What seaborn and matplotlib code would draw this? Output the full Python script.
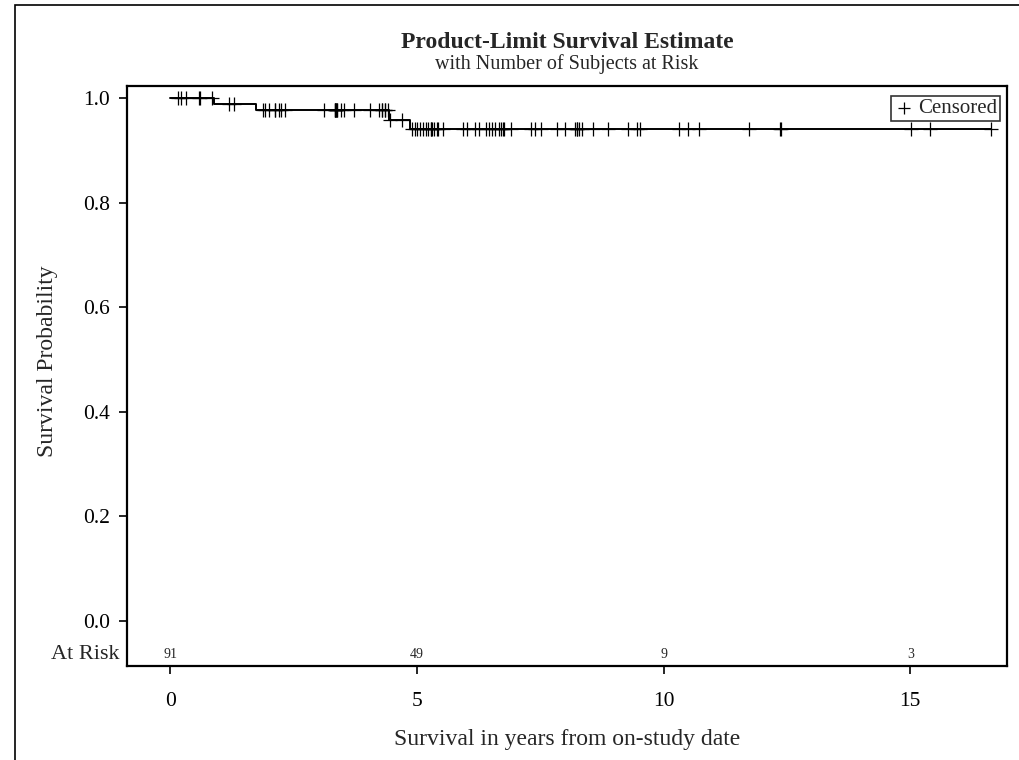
import numpy as np
import pandas as pd
import matplotlib
matplotlib.use("Agg")
import matplotlib.pyplot as plt
from matplotlib.patches import Rectangle
import seaborn as sns

# ---------------- data ----------------
event_times = [0.89, 1.73, 4.43, 4.85]
censor_times = [
    0.16, 0.21, 0.32, 0.58, 0.60, 0.85,
    1.19, 1.29,
    1.87, 1.92, 2.01, 2.12, 2.12, 2.20, 2.25, 2.33, 3.12, 3.33, 3.33, 3.34,
    3.35, 3.35, 3.37, 3.37, 3.45, 3.52, 3.73, 4.04, 4.24, 4.29, 4.29, 4.35,
    4.35, 4.41,
    4.45, 4.69,
    4.89, 4.95, 5.01, 5.06, 5.13, 5.18, 5.23, 5.28, 5.28, 5.31, 5.35, 5.40,
    5.43, 5.52, 5.93, 6.01, 6.18, 6.26, 6.40, 6.46, 6.53, 6.59, 6.66, 6.70,
    6.74, 6.77, 6.91, 7.32, 7.40, 7.52, 7.84, 8.01, 8.21, 8.24, 8.25, 8.28,
    8.34, 8.56, 8.88, 9.27, 9.45, 9.53, 10.31, 10.50, 10.72, 11.74, 12.36,
    12.38, 15.01, 15.39, 16.64,
]
at_risk_ticks = [0, 5, 10, 15]
y_ticks = [0.0, 0.2, 0.4, 0.6, 0.8, 1.0]

title = "Product-Limit Survival Estimate"
subtitle = "with Number of Subjects at Risk"
xlabel = "Survival in years from on-study date"
ylabel = "Survival Probability"

# ---------------- Kaplan-Meier computation ----------------
times = np.array(event_times + censor_times)
events = np.array([1] * len(event_times) + [0] * len(censor_times))
order = np.argsort(times, kind="stable")
times, events = times[order], events[order]

surv = 1.0
step_t, step_s = [0.0], [1.0]
for t in sorted(set(times[events == 1])):
    n = np.sum(times >= t)
    d = np.sum((times == t) & (events == 1))
    surv *= (1 - d / n)
    step_t.append(t)
    step_s.append(surv)
step_t.append(times.max())
step_s.append(surv)
curve = pd.DataFrame({"time": step_t, "surv": step_s})

def surv_at(t):
    s = 1.0
    for tt, ss in zip(step_t, step_s):
        if tt <= t:
            s = ss
    return s

cens = pd.DataFrame({"time": censor_times,
                     "surv": [surv_at(t) for t in censor_times]})
at_risk = [int(np.sum(times >= t)) for t in at_risk_ticks]

# ---------------- plotting ----------------
sns.set_theme(style="white")
plt.rcParams["font.family"] = ["Liberation Serif", "DejaVu Serif"]
plt.rcParams["axes.edgecolor"] = "black"
plt.rcParams["axes.linewidth"] = 1.6

fig = plt.figure(figsize=(10.2, 7.6), dpi=100)
W, H = 1020, 760
L, R, T, B = 127, 1007, 86, 666
ax = fig.add_axes([L / W, 1 - B / H, (R - L) / W, (B - T) / H])

sns.lineplot(data=curve, x="time", y="surv", drawstyle="steps-post",
             estimator=None, color="black", linewidth=1.4, ax=ax)
sns.scatterplot(data=cens, x="time", y="surv", marker="+", s=100,
                color="black", linewidth=0.9, ax=ax, label="Censored",
                zorder=3)

ax.set_xlim(-0.878, 16.96)
ax.set_ylim(-0.086, 1.023)
ax.set_xticks(at_risk_ticks)
ax.set_yticks(y_ticks)
ax.set_yticklabels([f"{v:.1f}" for v in y_ticks])
ax.tick_params(axis="both", which="major", direction="out", length=6,
               width=1.2, colors="black", labelsize=15.5, bottom=True, left=True)
ax.tick_params(axis="x", pad=13)
ax.tick_params(axis="y", pad=6)
ax.set_xlabel(xlabel, fontsize=17)
ax.set_ylabel(ylabel, fontsize=17)
ax.xaxis.set_label_coords(0.5, -(739 - B) / (B - T))
ax.xaxis.label.set_va("center")
ax.yaxis.set_label_coords(-(L - 48) / (R - L), (B - 361) / (B - T))
ax.yaxis.label.set_va("center")
for sp in ax.spines.values():
    sp.set_visible(True)
    sp.set_color("black")

# at-risk row
for t, n in zip(at_risk_ticks, at_risk):
    ax.text(t, -0.064, str(n), fontsize=10, ha="center", va="center")
ax.text(-0.008, -0.064, "At Risk", fontsize=16, ha="right", va="center",
        transform=ax.get_yaxis_transform())

leg = ax.legend(loc="upper right", frameon=True, fontsize=15,
                handletextpad=0.2, borderpad=0.12, handlelength=1.0,
                borderaxespad=0.0, markerscale=0.8,
                bbox_to_anchor=((1000 - L) / (R - L), (B - 96) / (B - T)),
                fancybox=False)
leg.get_frame().set_edgecolor("black")
leg.get_frame().set_linewidth(1.2)

cx = 0.5 * (L + R) / W
fig.text(cx, 1 - 42 / H, title, fontsize=17, fontweight="bold",
         ha="center", va="center")
fig.text(cx, 1 - 64 / H, subtitle, fontsize=14.5, ha="center", va="center")

# outer figure border
fig.patches.append(Rectangle((15 / W, -0.05), 1.2, 1 - 5 / H + 0.05,
                             transform=fig.transFigure, fill=False,
                             edgecolor="black", linewidth=1.2))

fig.savefig("out.png", dpi=100, facecolor="white")
